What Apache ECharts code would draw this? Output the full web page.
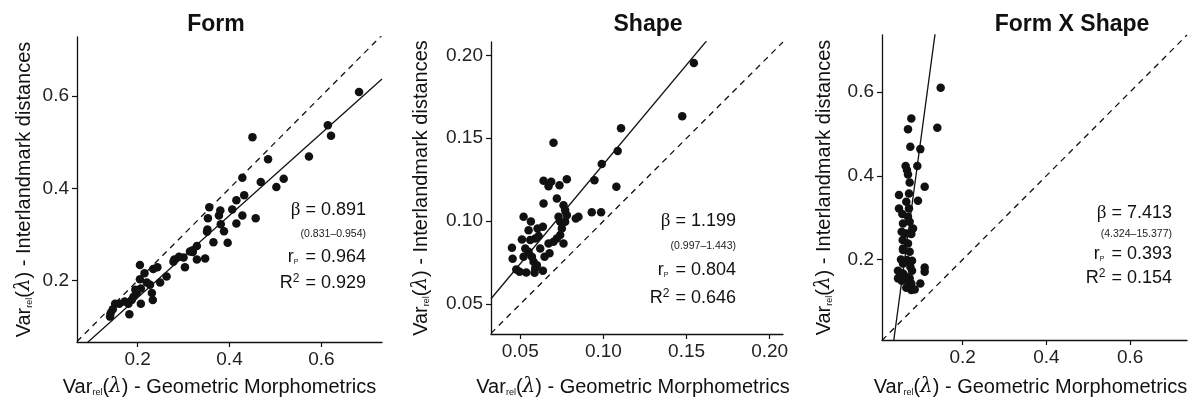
<!DOCTYPE html>
<html><head><meta charset="utf-8">
<script src="https://cdn.jsdelivr.net/npm/echarts@6/dist/echarts.min.js"></script>
<style>html,body{margin:0;padding:0;background:#fff}#c{width:1190px;height:397px}</style>
</head><body><div id="c"></div><script>
const panelTitles = ['Form', 'Shape', 'Form X Shape'];

const formX = [0.682,0.614,0.621,0.450,0.484,0.573,0.428,0.468,0.518,0.502,0.432,0.415,0.428,0.457,0.406,0.356,0.380,0.377,0.353,0.381,0.352,0.351,0.388,0.415,0.365,0.396,0.329,0.320,0.314,0.300,0.329,0.347,0.280,0.278,0.303,0.263,0.249,0.243,0.234,0.205,0.215,0.205,0.227,0.220,0.231,0.233,0.207,0.207,0.198,0.191,0.187,0.180,0.172,0.182,0.151,0.146,0.141,0.140,0.160,0.195,0.290,0.320];
const formY = [0.609,0.537,0.514,0.511,0.463,0.469,0.423,0.414,0.421,0.403,0.385,0.374,0.341,0.335,0.354,0.359,0.352,0.341,0.335,0.322,0.311,0.306,0.307,0.324,0.283,0.282,0.275,0.266,0.263,0.250,0.246,0.248,0.246,0.241,0.229,0.209,0.196,0.229,0.225,0.234,0.216,0.203,0.191,0.196,0.173,0.158,0.183,0.150,0.173,0.165,0.158,0.150,0.155,0.127,0.150,0.138,0.129,0.122,0.150,0.180,0.252,0.262];

const shapeX = [0.1544,0.1474,0.1106,0.1086,0.099,0.0946,0.1078,0.093,0.0986,0.085,0.0834,0.078,0.0736,0.070,0.064,0.067,0.0686,0.072,0.064,0.076,0.077,0.078,0.073,0.074,0.077,0.075,0.074,0.072,0.076,0.070,0.067,0.052,0.0564,0.051,0.055,0.059,0.061,0.0636,0.0604,0.056,0.053,0.055,0.062,0.057,0.0646,0.0676,0.058,0.059,0.0586,0.0636,0.045,0.0454,0.0476,0.0496,0.0536,0.060,0.052];
const shapeY = [0.1953,0.1632,0.156,0.1423,0.1345,0.1247,0.1207,0.1054,0.1054,0.1026,0.1016,0.1253,0.1217,0.1473,0.1243,0.1211,0.1237,0.1136,0.1106,0.1096,0.1066,0.1036,0.1026,0.0996,0.0996,0.0956,0.0916,0.0896,0.0866,0.0876,0.0866,0.1026,0.0998,0.089,0.0946,0.0896,0.091,0.0966,0.0956,0.0886,0.0836,0.0816,0.0836,0.0786,0.0786,0.0806,0.0756,0.0716,0.0689,0.0701,0.084,0.0773,0.0709,0.0695,0.0691,0.0735,0.0786];

const fxsX = [0.1474,0.1394,0.0773,0.0693,0.0749,0.0988,0.0637,0.0669,0.0916,0.0693,0.0733,0.1092,0.0478,0.0717,0.0653,0.0932,0.0478,0.0717,0.0558,0.0574,0.0733,0.0542,0.0653,0.0773,0.0566,0.0693,0.0574,0.0733,0.0526,0.0669,0.0789,0.0749,0.0574,0.1092,0.1092,0.0789,0.0454,0.0574,0.0454,0.0653,0.0542,0.0693,0.0773,0.0988,0.0653,0.0773,0.0853,0.0574,0.0693,0.0813,0.0566,0.0733];
const fxsY = [0.610,0.5145,0.5368,0.5113,0.4692,0.4636,0.4231,0.4135,0.4231,0.4032,0.3841,0.3738,0.3539,0.3579,0.338,0.3404,0.3221,0.3221,0.3086,0.2863,0.290,0.2664,0.2624,0.2608,0.2465,0.2386,0.2266,0.2187,0.2004,0.1988,0.1972,0.1829,0.1908,0.1813,0.171,0.1734,0.1734,0.167,0.1551,0.159,0.1495,0.1495,0.1431,0.1431,0.1328,0.1272,0.1288,0.2226,0.3022,0.2744,0.1551,0.1551];

const slopes = [0.891, 1.199, 7.413];
const intercepts = [-0.015, 0.0144, -0.2546];
const betaText = ['0.891', '1.199', '7.413'];
const ciText = ['(0.831\u20130.954)', '(0.997\u20131.443)', '(4.324\u201315.377)'];
const rpText = ['0.964', '0.804', '0.393'];
const r2Text = ['0.929', '0.646', '0.154'];

const tickVals = [[0.2, 0.4, 0.6], [0.05, 0.10, 0.15, 0.20], [0.2, 0.4, 0.6]];
const tickDigits = [1, 2, 1];
const xMin = [0.068, 0.0324, 0.0072], xMax = [0.732, 0.208, 0.736];
const yMin = [0.067, 0.032, 0.008],   yMax = [0.728, 0.208, 0.736];

const pts = [[formX, formY], [shapeX, shapeY], [fxsX, fxsY]];

const grids = [
  {left: 77, top: 37, width: 305, height: 305, outerBoundsMode: 'none', containLabel: false},
  {left: 491, top: 42, width: 292, height: 292, outerBoundsMode: 'none', containLabel: false},
  {left: 882, top: 35, width: 305, height: 305, outerBoundsMode: 'none', containLabel: false}
];
const yNameGap = [43, 60, 48];
const xNameGap = [35, 43, 37];
const xNameShift = [20, 8, 8];
const titleCx = [216, 648, 1072];
const annRight = [366, 736, 1172];
const annY = [[210, 234, 257, 283], [221, 246, 270, 298], [213, 234, 254, 278]];

const FONT = '"Liberation Sans", Arial, Helvetica, sans-serif';
const INK = '#111';

const nameRich = {
  t: {fontSize: 20, fontFamily: FONT, color: INK},
  s: {fontSize: 9, fontFamily: FONT, color: INK, verticalAlign: 'bottom', padding: [7, 0, 0, 0]},
  l: {fontSize: 20, fontFamily: '"DejaVu Serif", serif', fontStyle: 'italic', color: INK}
};

const xAxes = [], yAxes = [], series = [], graphics = [];
for (let i = 0; i < 3; i++) {
  const fmt = v => v.toFixed(tickDigits[i]);
  const common = {
    gridIndex: i, type: 'value', nameLocation: 'middle',
    axisLine: {show: true, lineStyle: {color: INK, width: 1.3}},
    axisTick: {show: true, length: 5, lineStyle: {color: INK, width: 1.2}, customValues: tickVals[i]},
    axisLabel: {fontSize: 19, fontFamily: FONT, color: '#222', margin: 8, customValues: tickVals[i], formatter: fmt},
    splitLine: {show: false}
  };
  xAxes.push(Object.assign({}, common, {
    min: xMin[i], max: xMax[i],
    name: '{t|Var}{s|rel}{t|(}{l|\u03bb}{t|) - Geometric Morphometrics}',
    nameGap: xNameGap[i],
    nameTextStyle: {rich: nameRich, padding: [0, xNameShift[i], 0, 0]}
  }));
  yAxes.push(Object.assign({}, common, {
    min: yMin[i], max: yMax[i],
    name: '{t|Var}{s|rel}{t|(}{l|\u03bb}{t|) - Interlandmark distances}',
    nameGap: yNameGap[i],
    nameTextStyle: {rich: nameRich}
  }));
  const data = pts[i][0].map((x, k) => [x, pts[i][1][k]]);
  series.push({
    type: 'scatter', xAxisIndex: i, yAxisIndex: i, data: data,
    symbolSize: 8.5, itemStyle: {color: INK, opacity: 1}, silent: true, z: 3
  });
  series.push({
    type: 'line', xAxisIndex: i, yAxisIndex: i, symbol: 'none', silent: true, clip: true, z: 2,
    data: [[xMin[i], xMin[i]], [xMax[i], xMax[i]]],
    lineStyle: {color: INK, width: 1.3, type: [6, 5]}
  });
  series.push({
    type: 'line', xAxisIndex: i, yAxisIndex: i, symbol: 'none', silent: true, clip: true, z: 2,
    data: [[xMin[i], intercepts[i] + slopes[i] * xMin[i]], [xMax[i], intercepts[i] + slopes[i] * xMax[i]]],
    lineStyle: {color: INK, width: 1.3}
  });
  graphics.push({
    type: 'text', x: titleCx[i], y: 25,
    style: {text: panelTitles[i], font: 'bold 23px ' + FONT, fill: INK, align: 'center', verticalAlign: 'middle'}
  });
  const R = annRight[i], Y = annY[i];
  graphics.push({
    type: 'text', x: R, y: Y[0],
    style: {text: '{g|\u03b2} = ' + betaText[i], align: 'right', verticalAlign: 'middle', fill: INK,
      font: '18px ' + FONT,
      rich: {g: {fontSize: 19, fontFamily: '"Liberation Serif", serif', fill: INK}}}
  });
  graphics.push({
    type: 'text', x: R, y: Y[1],
    style: {text: ciText[i], align: 'right', verticalAlign: 'middle', fill: '#222', font: '10.5px ' + FONT}
  });
  graphics.push({
    type: 'text', x: R, y: Y[2],
    style: {text: 'r{p|P} = ' + rpText[i], align: 'right', verticalAlign: 'middle', fill: INK,
      font: '18px ' + FONT,
      rich: {p: {fontSize: 7, fontFamily: FONT, fill: INK, verticalAlign: 'bottom', padding: [7, 2, 0, 0]}}}
  });
  graphics.push({
    type: 'text', x: R, y: Y[3],
    style: {text: 'R{u|2} = ' + r2Text[i], align: 'right', verticalAlign: 'middle', fill: INK,
      font: '18px ' + FONT,
      rich: {u: {fontSize: 12, fontFamily: FONT, fill: INK, verticalAlign: 'top', padding: [0, 1, 8, 0]}}}
  });
}

const chart = echarts.init(document.getElementById('c'), null, {renderer: 'canvas'});
chart.setOption({
  backgroundColor: '#fff',
  animation: false,
  grid: grids,
  xAxis: xAxes,
  yAxis: yAxes,
  series: series,
  graphic: graphics
});
</script></body></html>
